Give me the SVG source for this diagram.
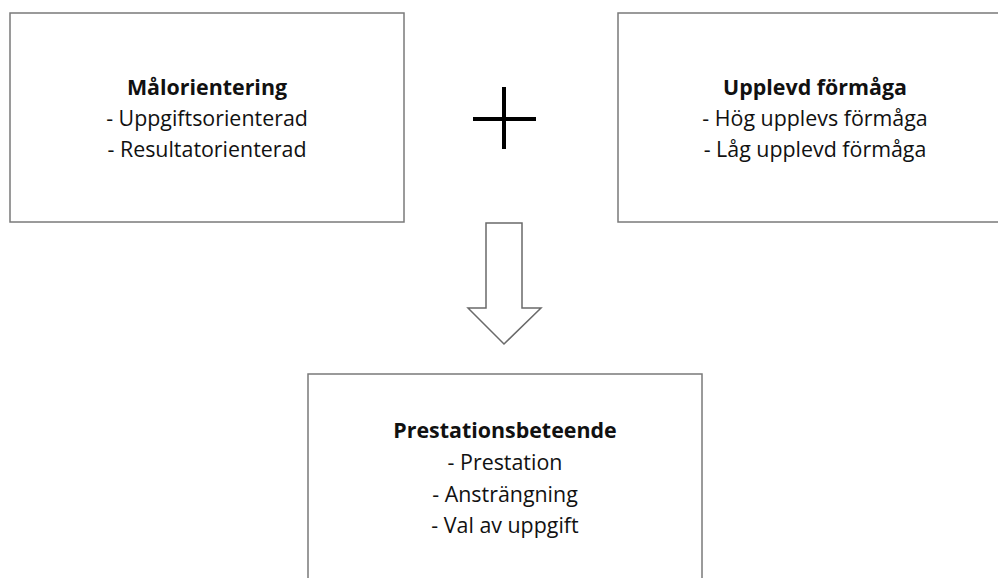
<svg xmlns="http://www.w3.org/2000/svg" width="998" height="578" viewBox="0 0 998 578">
<style>
.box{fill:#fff;stroke:#7a7a7a;stroke-width:1.5}
text{font-family:"Open Sans","Liberation Sans",sans-serif;font-size:21.4px;fill:#111;text-anchor:middle}
.t{font-weight:bold}
</style>
<rect width="998" height="578" fill="#fff"/>
<g id="malorientering">
<rect class="box" x="10" y="13" width="394" height="209"/>
<text x="207" y="95" class="t">Målorientering</text>
<text x="207" y="126">- Uppgiftsorienterad</text>
<text x="207" y="157">- Resultatorienterad</text>
</g>
<g id="plus">
<line x1="504" y1="87" x2="504" y2="149" stroke="#000" stroke-width="4"/>
<line x1="473" y1="119" x2="536" y2="119" stroke="#000" stroke-width="4"/>
</g>
<g id="upplevd">
<rect class="box" x="618" y="13" width="394" height="209"/>
<text x="815" y="95" class="t">Upplevd förmåga</text>
<text x="815" y="126">- Hög upplevs förmåga</text>
<text x="815" y="157">- Låg upplevd förmåga</text>
</g>
<g id="connectors">
<polygon points="486,223 522,223 522,308 541,308 504,344 468,308 486,308" fill="#fff" stroke="#6a6a6a" stroke-width="1.5"/>
</g>
<g id="prestationsbeteende">
<rect class="box" x="308" y="374" width="394" height="215"/>
<text x="505" y="438" class="t">Prestationsbeteende</text>
<text x="505" y="470">- Prestation</text>
<text x="505" y="502">- Ansträngning</text>
<text x="505" y="533">- Val av uppgift</text>
</g>
</svg>
